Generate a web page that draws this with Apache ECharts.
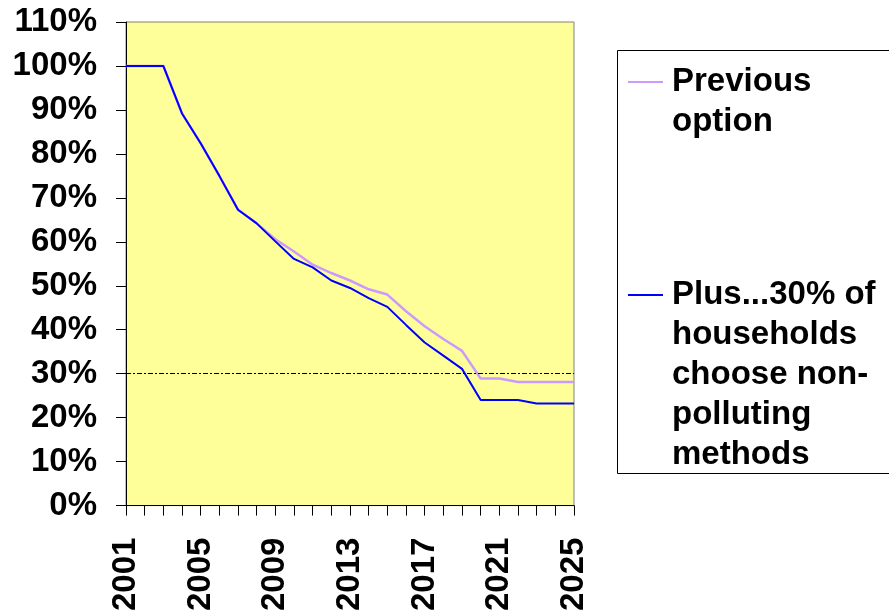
<!DOCTYPE html>
<html>
<head>
<meta charset="utf-8">
<script src="https://cdn.jsdelivr.net/npm/echarts@6/dist/echarts.min.js"></script>
<style>
  html, body { margin: 0; padding: 0; background: #fff; overflow: hidden; }
  #chart { width: 889px; height: 614px; }
</style>
</head>
<body>
<div id="chart"></div>
<script>
const years = ['2001','2002','2003','2004','2005','2006','2007','2008','2009','2010','2011','2012','2013',
               '2014','2015','2016','2017','2018','2019','2020','2021','2022','2023','2024','2025'];
const previousOption = [100,100,100,89.2,82.4,75,67.3,64.2,60.6,57.8,54.8,52.9,51.2,
                        49.2,48.0,44.2,40.8,37.9,35.2,28.9,28.9,28.1,28.1,28.1,28.1];
const plusOption = [100,100,100,89.2,82.4,75,67.3,64.2,60.1,56.1,54.2,51.2,49.5,
                    47.2,45.2,41.1,37.1,34.1,31.1,24.0,24.0,24.0,23.2,23.2,23.2];
const targetLevel = 30;
const seriesNames = ['Previous option', 'Plus...30% of households choose non-polluting methods'];
const legendLines = [['Previous', 'option'], ['Plus...30% of', 'households', 'choose non-', 'polluting', 'methods']];

const FONT = 'Liberation Sans, Arial, sans-serif';
const LH = 40;

function makeLegend(i, top) {
  const lines = legendLines[i];
  // empty lines above so the legend icon sits level with the first text line
  const pad = new Array(lines.length - 1).fill(' ');
  return {
    data: [seriesNames[i]],
    left: 628,
    top: top,
    padding: 0,
    orient: 'vertical',
    icon: 'rect',
    itemWidth: 35,
    itemHeight: 2,
    formatter: function () {
      return pad.concat(lines).map(function (s) { return '{t|' + s + '}'; }).join('\n');
    },
    textStyle: {
      fontFamily: FONT, fontWeight: 'bold', fontSize: 33, color: '#000', lineHeight: LH,
      rich: {
        t: { fontFamily: FONT, fontWeight: 'bold', fontSize: 33, color: '#000', lineHeight: LH, padding: [0, 0, 0, 4] }
      }
    },
    selectedMode: false
  };
}

const chart = echarts.init(document.getElementById('chart'), null, { renderer: 'canvas' });
chart.setOption({
  animation: false,
  backgroundColor: '#ffffff',
  grid: {
    left: 126, right: 315, top: 22, bottom: 108,
    show: true, backgroundColor: '#FFFF99', borderColor: '#808080', borderWidth: 1
  },
  graphic: [{
    type: 'polyline', z: 100,
    shape: { points: [[960, 50.5], [617.5, 50.5], [617.5, 473.5], [960, 473.5]] },
    style: { fill: 'none', stroke: '#000', lineWidth: 1 }
  }],
  legend: [makeLegend(0, 22), makeLegend(1, 115)],
  xAxis: {
    type: 'category',
    data: years,
    boundaryGap: false,
    axisLine: { lineStyle: { color: '#000', width: 1 } },
    axisTick: { show: true, interval: 0, length: 10, lineStyle: { color: '#000' } },
    axisLabel: {
      interval: 3, rotate: 90, margin: 32,
      fontFamily: FONT, fontWeight: 'bold', fontSize: 33, color: '#000'
    },
    splitLine: { show: false }
  },
  yAxis: {
    type: 'value',
    min: 0, max: 110, interval: 10,
    axisLine: { show: true, lineStyle: { color: '#000', width: 1 } },
    axisTick: { show: true, length: 10, lineStyle: { color: '#000' } },
    axisLabel: {
      formatter: '{value}%', margin: 29,
      fontFamily: FONT, fontWeight: 'bold', fontSize: 33, color: '#000'
    },
    splitLine: { show: false }
  },
  series: [
    {
      name: seriesNames[0], type: 'line', data: previousOption,
      symbol: 'none', color: '#CC99FF',
      lineStyle: { color: '#CC99FF', width: 2.5 }, z: 2
    },
    {
      name: seriesNames[1], type: 'line', data: plusOption,
      symbol: 'none', color: '#0000FF',
      lineStyle: { color: '#0000FF', width: 2 }, z: 3,
      markLine: {
        silent: true, symbol: 'none',
        label: { show: false },
        lineStyle: { color: '#000', width: 1, type: [5, 2, 2, 2] },
        data: [{ yAxis: targetLevel }]
      }
    }
  ]
});
</script>
</body>
</html>
